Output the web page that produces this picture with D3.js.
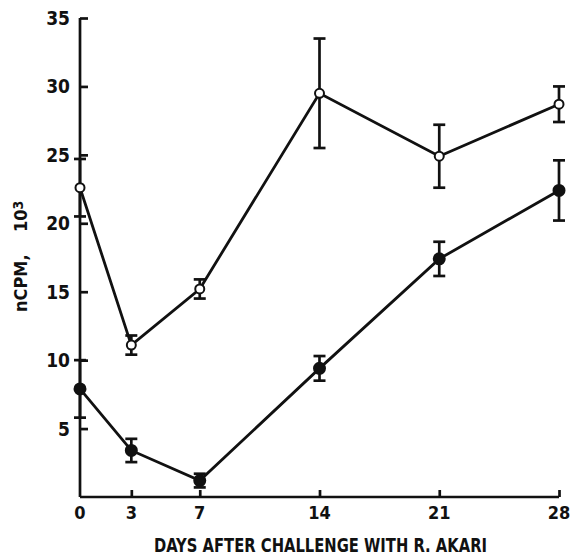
<!DOCTYPE html>
<html>
<head>
  <script src="https://d3js.org/d3.v7.min.js"></script>
  <style>
    body { margin: 0; background: #fff; }
    text { font-family: "Liberation Sans Narrow", "DejaVu Sans Condensed", Arial, sans-serif; font-weight: bold; fill: #111; }
  </style>
</head>
<body>
<script type="text/javascript">
  var w = 571;
  var h = 558;

  // data
  var days = [0, 3, 7, 14, 21, 28];
  var openMean = [22.6, 11.1, 15.2, 29.5, 24.9, 28.7];
  var openErr  = [2.1, 0.7, 0.7, 4.0, 2.3, 1.3];
  var filledMean = [7.9, 3.4, 1.2, 9.4, 17.4, 22.4];
  var filledErr  = [2.1, 0.85, 0.5, 0.9, 1.25, 2.2];
  var xTicks = [0, 3, 7, 14, 21, 28];
  var yTicks = [5, 10, 15, 20, 25, 30, 35];

  var svg = d3.select("body").append("svg")
    .attr("width", w)
    .attr("height", h);

  var x = d3.scaleLinear().domain([0, 28]).range([80, 559]);
  var y = d3.scaleLinear().domain([0, 35]).range([497, 18]);

  // y axis
  var yAxis = d3.axisRight(y).tickValues(yTicks).tickSize(8).tickFormat("");
  var gy = svg.append("g").attr("transform", "translate(" + x(0) + ",0)").call(yAxis);
  gy.select(".domain").remove();
  gy.selectAll("line").attr("stroke", "#111").attr("stroke-width", 2.7);
  svg.append("line")
    .attr("x1", x(0)).attr("x2", x(0))
    .attr("y1", y(35)).attr("y2", y(0))
    .attr("stroke", "#111").attr("stroke-width", 2.7);
  svg.selectAll(".ylab")
    .data(yTicks)
    .enter().append("text")
    .attr("class", "ylab")
    .attr("x", x(0) - 10)
    .attr("y", function(d){ return y(d) + 7; })
    .attr("text-anchor", "end")
    .attr("font-size", 19)
    .text(function(d){ return d; });

  // x axis
  var xAxis = d3.axisTop(x).tickValues(xTicks.slice(1)).tickSize(7).tickFormat("");
  var gx = svg.append("g").attr("transform", "translate(0," + y(0) + ")").call(xAxis);
  gx.select(".domain").remove();
  gx.selectAll("line").attr("stroke", "#111").attr("stroke-width", 2.7);
  svg.append("line")
    .attr("x1", x(0)).attr("x2", x(28))
    .attr("y1", y(0)).attr("y2", y(0))
    .attr("stroke", "#111").attr("stroke-width", 2.7);
  svg.selectAll(".xlab")
    .data(xTicks)
    .enter().append("text")
    .attr("class", "xlab")
    .attr("x", function(d){ return x(d); })
    .attr("y", 519)
    .attr("text-anchor", "middle")
    .attr("font-size", 18)
    .text(function(d){ return d; });

  // axis titles
  svg.append("text")
    .attr("x", 154).attr("y", 552)
    .attr("font-size", 20)
    .attr("textLength", 333)
    .attr("lengthAdjust", "spacingAndGlyphs")
    .text("DAYS AFTER CHALLENGE WITH R. AKARI");

  var yt = svg.append("text")
    .attr("transform", "translate(27,312) rotate(-90)")
    .attr("font-size", 18);
  yt.append("tspan").text("nCPM,\u00a0\u00a0\u00a0\u00a010");
  yt.append("tspan").attr("dy", -4).attr("font-size", 14).text("3");

  function drawSeries(mean, err, filled) {
    var pts = days.map(function(d, i){ return {d: d, m: mean[i], e: err[i]}; });
    var line = d3.line().x(function(p){ return x(p.d); }).y(function(p){ return y(p.m); });
    svg.append("path").datum(pts)
      .attr("d", line)
      .attr("fill", "none").attr("stroke", "#111").attr("stroke-width", 2.8);

    var g = svg.append("g");
    g.selectAll(".eb").data(pts).enter().append("line")
      .attr("x1", function(p){ return x(p.d); }).attr("x2", function(p){ return x(p.d); })
      .attr("y1", function(p){ return y(p.m + p.e); }).attr("y2", function(p){ return y(p.m - p.e); })
      .attr("stroke", "#111").attr("stroke-width", 2.7);
    [1, -1].forEach(function(s){
      g.selectAll(".cap").data(pts).enter().append("line")
        .attr("x1", function(p){ return x(p.d) - 6; }).attr("x2", function(p){ return x(p.d) + 6; })
        .attr("y1", function(p){ return y(p.m + s * p.e); }).attr("y2", function(p){ return y(p.m + s * p.e); })
        .attr("stroke", "#111").attr("stroke-width", 2.7);
    });
    g.selectAll("circle").data(pts).enter().append("circle")
      .attr("cx", function(p){ return x(p.d); })
      .attr("cy", function(p){ return y(p.m); })
      .attr("r", filled ? 5.5 : 4.5)
      .attr("fill", filled ? "#111" : "#fff")
      .attr("stroke", "#111").attr("stroke-width", 2);
  }

  drawSeries(openMean, openErr, false);
  drawSeries(filledMean, filledErr, true);
</script>
</body>
</html>
